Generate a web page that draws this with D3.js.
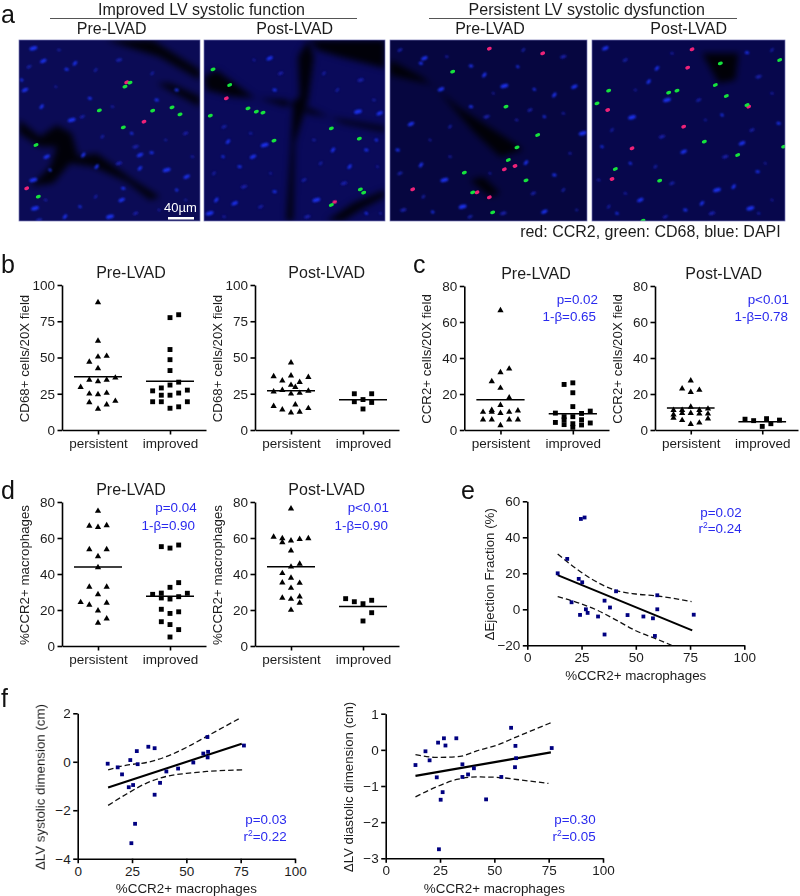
<!DOCTYPE html>
<html>
<head>
<meta charset="utf-8">
<script src="https://cdn.jsdelivr.net/npm/d3@7/dist/d3.min.js"></script>
<style>
html,body{margin:0;padding:0;background:#fff;}
svg{display:block;font-family:"Liberation Sans",Arial,sans-serif;}
</style>
</head>
<body>
<div id="chart"></div>
<script>
// ---------- swarm panels: value + swarm column of each point ----------
const groups = ["persistent", "improved"];

const cd68PrePersistent = [88,61.5,47,50.5,51,42.5,29.5,34.5,33.5,34.5,36,25,24.5,25.5,19,20,17.5,14.5];
const cd68PrePersistentCol = [0,0,-1,0,1,0,-2,-1,0,1,2,-1,0,1,-1,2,1,0];
const cd68PreImproved = [77.5,79.5,55.5,48.5,41,33,31,29,27,27.5,25.5,24,24,19.5,19.5,19.5,15,16];
const cd68PreImprovedCol = [0,1,0,0,0,1,0,-1,-2,2,1,0,-1,-2,-1,2,0,1];
const cd68PostPersistent = [46.5,37,34,37.5,33,36.5,31,29.5,26.5,27.5,25,25.5,27,16.5,14,17.5,12,12.5,15];
const cd68PostPersistentCol = [0,-2,-1,0,1,2,0,0.5,-2,-1,0,1,2,-2,-1,0.5,0,1,2];
const cd68PostImproved = [25,25,19.5,21,19,14.5];
const cd68PostImprovedCol = [-1,1,-1,0,1,0];
const cd68Means = [36.7,33.7,27,20.8];

const ccr2PrePersistent = [66.4,27,32,34,23.3,18,13.8,10,10,11,10,10.7,9.4,5.7,5.7,5.7,5.7,2.6];
const ccr2PrePersistentCol = [0,-1,0,1,0,1,0,-2,-1,-1,1,2,0,-2,-1,1,2,0];
const ccr2PreImproved = [25.3,26.2,20.7,13,10.5,9.2,9.4,7.4,7.4,4.2,5.7,5.7,3.9,3,2.8,1.5,3.5];
const ccr2PreImprovedCol = [-1,0,0,0,2,1,-2,-1,0,-2,-1,1,2,-1,1,0,0];
const ccr2PostPersistent = [27.4,23,21,22.2,12.8,11,11,11,11.8,9.4,9.4,8.5,9,9,6.7,5.4,6.3,3.2,4];
const ccr2PostPersistentCol = [0,-1,0,1,0,-1,-2,1,2,0,-1,-2,1,2,-2,-1,2,0,1];
const ccr2PostImproved = [6,5.2,6.3,5.5,3.5,2];
const ccr2PostImprovedCol = [-2,-1,0.5,2,1,0];
const ccr2Means = [16.8,9,12.2,4.6];

const pctPrePersistent = [75,66.7,66,67,53.7,53.7,49.8,43.7,32.8,32.8,28.7,24.3,22.8,23.9,19.6,15.2,12.8];
const pctPrePersistentCol = [0,-1,0,1,-1,1,0,0,-1,1,0,-2,-1,1,0,1,0];
const pctPreImproved = [55.2,54.4,56.1,35.2,32.6,28.7,29.4,29.3,27.4,26.7,26.1,20.4,18.1,19,13.5,11.9,9.1,5];
const pctPreImprovedCol = [-1,0,1,1,0,-2,-1,2,1,-1,0,-1,0,1,-1,0,1,0];
const pctPostPersistent = [76.3,60.6,59.8,57.6,58.5,59.4,59.8,53,44,45.6,40.4,37.8,35.2,35,32.2,26.7,26.1,27.4,23.9,20];
const pctPostPersistentCol = [0,-2,-1,-1,0,1,2,0,0,1,-1,0,-1,1,0,-1,0,1,1,0];
const pctPostImproved = [26.3,24.6,23.5,25.4,18.5,13.9];
const pctPostImprovedCol = [-2,-1,0,1,1,0];
const pctMeans = [43.9,27.6,44,21.9];

// ---------- regression panels ----------
const efX = [14,18.4,20.4,23.7,24.3,24.7,26.4,25.3,27,27.8,32.6,35.6,35.6,38.1,40.9,46.2,53.5,57.9,58.8,59.9,59.9,76.7];
const efY = [20,28,3.9,16.9,-3.1,50.2,51,15,0,-2,-4,4.8,-14,1,10,-3.2,-4,-5,-14.8,7.8,0,-3];
const efLineX = [14,76];
const efLineY = [19,-11.7];
const efUpperX = [14,22.7,30.4,41,50,60,75.7];
const efUpperY = [30.7,22.4,16.3,10.4,8.5,7.4,4.3];
const efLowerX = [14,22.7,32,41,50,60,66.5];
const efLowerY = [7,3.9,-0.4,-6,-11.9,-16.7,-20];

const lvsX = [13.8,18.4,20.4,23.5,24.2,24.7,25.5,26.4,27.2,27.6,32.5,35.4,35.4,37.9,40.8,46.2,53.2,57.8,59.7,60,59.8,76.5];
const lvsY = [-0.08,-0.23,-0.52,-1.05,0.07,-3.36,-0.96,-2.56,0.44,-0.1,0.62,0.56,-1.36,-0.87,-0.4,-0.28,-0.03,0.34,1.02,0.41,0.18,0.67];
const lvsLineX = [14,75.5];
const lvsLineY = [-1.06,0.74];
const lvsUpperX = [14,22.5,31.7,41,50,59.4,74.7];
const lvsUpperY = [-0.33,-0.14,-0.03,0.22,0.59,1.05,1.8];
const lvsLowerX = [14,22.5,31.7,41,50,59.4,77];
const lvsLowerY = [-1.8,-1.33,-0.88,-0.6,-0.48,-0.4,-0.33];

const lvdX = [13.7,18.3,20.2,23.5,24.1,24.5,25.3,26.2,26.8,27.5,32.5,35.3,35.3,37.9,40.6,46.2,53.2,57.7,59.7,60,59.5,76.4];
const lvdY = [-0.42,-0.04,-0.29,-0.76,0.2,-2.75,-1.38,-1.17,0.32,0.12,0.32,-0.4,-0.75,-0.68,-0.51,-1.37,-0.75,0.61,0.11,-0.23,-0.48,0.05];
const lvdLineX = [13.7,76];
const lvdLineY = [-0.72,-0.07];
const lvdUpperX = [13.7,23.5,34.2,41.9,51.1,60.3,76.4];
const lvdUpperY = [-0.13,-0.21,-0.18,-0.03,0.13,0.36,0.76];
const lvdLowerX = [13.7,23.5,32.7,41.9,51.1,60.3,74.9];
const lvdLowerY = [-1.3,-1.02,-0.82,-0.75,-0.76,-0.82,-0.93];

// ---------- micrographs: stained spots in field units, [x, y] ----------
const field1Dark = [[[0,240],[63,290],[113,255],[158,280],[178,350],[233,340],[343,420],[423,470],[393,480],[323,425],[223,380],[153,370],[103,430],[33,440],[93,380],[113,320],[63,320],[0,280]],[[413,130],[543,200],[543,170],[453,130]],[[260,0],[400,0],[543,90],[543,120],[420,50]]];
const field1Green = [[333,128],[318,140],[241,211],[459,202],[483,223],[313,262],[51,315],[58,470],[401,212]];
const field1Red = [[375,245],[23,445],[323,127]];
const field1Blue = [[73,63],[143,88],[168,70],[43,25],[8,120],[18,150],[213,175],[68,200],[158,240],[338,280],[363,345],[398,338],[363,385],[443,390],[473,450],[308,480],[313,445],[138,530],[43,420],[93,390],[83,350],[413,180],[233,380],[273,530],[183,500],[503,410],[473,150],[193,345],[48,505]];
const field1Dim = [[30,80],[120,30],[230,90],[300,60],[110,140],[190,230],[280,200],[400,100],[350,320],[440,300],[500,280],[520,350],[250,290],[300,370],[420,510],[350,520],[80,480],[230,470],[60,540],[500,480]];

const field2Dark = [[[282,50],[312,0],[330,50],[312,180],[272,310],[267,543],[247,543],[262,300],[267,200],[247,180],[87,170],[7,150],[0,110],[37,90],[147,170],[247,200],[287,170]],[[317,0],[543,0],[543,85],[407,50],[340,30]],[[307,220],[543,260],[543,275],[417,250],[307,200]],[[367,543],[447,490],[543,450],[543,470],[467,510],[417,543]]];
const field2Green = [[27,88],[77,135],[132,205],[157,215],[177,218],[19,227],[382,265],[466,296],[210,302],[469,448],[479,458],[382,495]];
const field2Red = [[67,175],[392,486]];
const field2Blue = [[197,55],[212,150],[72,305],[182,315],[57,350],[92,490],[212,455],[37,480],[462,215],[517,300],[527,220],[487,330],[387,330],[337,480],[487,520],[147,350],[107,380],[437,380],[17,520]];
const field2Dim = [[60,260],[140,280],[30,400],[120,440],[200,400],[170,500],[60,530],[350,370],[420,430],[520,380],[300,420],[330,300],[400,150],[470,120],[150,60],[230,100],[510,180],[360,100],[310,530],[530,520]];

const field3Dark = [[[0,105],[130,135],[255,280],[330,350],[400,330],[350,295],[210,205],[95,110],[0,60]],[[240,420],[300,470],[330,460],[280,410]]];
const field3Green = [[348,200],[443,285],[381,322],[355,360],[223,398],[248,457],[308,517],[408,421],[188,95]];
const field3Red = [[298,26],[458,40],[343,388],[375,378],[68,448],[261,457],[298,472]];
const field3Blue = [[103,55],[243,78],[283,105],[343,138],[433,148],[63,252],[243,200],[408,368],[218,500],[128,516],[463,515],[493,405],[493,165],[578,280],[463,230],[153,148],[23,330],[93,375],[163,420],[383,80],[553,140],[93,70]];
const field3Dim = [[30,30],[170,50],[400,30],[520,50],[310,160],[420,210],[520,220],[180,260],[290,230],[120,300],[30,400],[180,350],[100,470],[40,510],[300,400],[430,460],[540,340],[520,450],[340,520],[560,510],[240,530],[380,240]];

const field4Dark = [[[330,40],[440,40],[430,120],[380,130]]];
const field4Green = [[385,70],[50,152],[15,190],[255,152],[230,158],[370,135],[403,168],[465,195],[337,305],[437,345],[70,387],[203,422],[575,320],[563,60],[153,542]];
const field4Red = [[300,28],[287,83],[275,260],[60,417],[470,200],[47,210],[120,325]];
const field4Blue = [[40,25],[465,38],[195,85],[120,232],[390,225],[275,335],[497,395],[330,490],[475,505],[75,520],[450,310],[560,250],[170,125],[225,180],[30,320],[145,480],[280,510],[425,440],[375,450],[115,370]];
const field4Dim = [[100,60],[240,40],[540,30],[500,110],[130,150],[320,180],[540,160],[60,270],[210,290],[340,240],[480,270],[20,420],[190,380],[400,350],[520,370],[240,430],[100,460],[50,500],[360,520],[540,480],[220,530],[500,520]];

const svg = d3.select("#chart").append("svg").attr("width", 800).attr("height", 896);
const ink = "#1c1c1c", blueInk = "#2a2aee", navy = "#000080";

const text = (s, x, y, size, opts = {}) => svg.append("text").attr("x", x).attr("y", y)
  .attr("font-size", size).attr("fill", opts.fill || ink)
  .attr("text-anchor", opts.anchor || "middle").text(s);

// ---------- panel a ----------
const defs = svg.append("defs");
const blurFilter = (id, sd) => defs.append("filter").attr("id", id)
  .attr("x", "-30%").attr("y", "-30%").attr("width", "160%").attr("height", "160%")
  .append("feGaussianBlur").attr("stdDeviation", sd);
blurFilter("soft", 0.75);
blurFilter("medium", 1.1);
blurFilter("softer", 3);
const nucleusShape = [[3.4, 1.7, -25], [2.2, 1.4, 10], [2.8, 1.5, -50], [4, 1.9, -15], [1.8, 1.3, 30]];

function micrograph(i, left, top, w, h, bg, dark, green, red, blue, dim) {
  const fx = d3.scaleLinear().domain([0, w * 3]).range([left, left + w]);
  const fy = d3.scaleLinear().domain([0, h * 3]).range([top, top + h]);
  defs.append("clipPath").attr("id", "clip" + i).append("rect")
    .attr("x", left).attr("y", top).attr("width", w).attr("height", h);
  const g = svg.append("g").attr("clip-path", `url(#clip${i})`);
  g.append("rect").attr("x", left).attr("y", top).attr("width", w).attr("height", h).attr("fill", bg);
  g.append("g").attr("filter", "url(#softer)").selectAll("path").data(dark).join("path")
    .attr("fill", "#000").attr("opacity", 0.9)
    .attr("d", d3.line().x(d => fx(d[0])).y(d => fy(d[1])).curve(d3.curveLinearClosed));
  g.append("g").attr("filter", "url(#medium)").selectAll("ellipse").data(dim).join("ellipse")
    .attr("cx", d => fx(d[0])).attr("cy", d => fy(d[1]))
    .attr("rx", (d, j) => nucleusShape[j % 5][0] * 0.8).attr("ry", (d, j) => nucleusShape[j % 5][1] * 0.8)
    .attr("fill", "#1a22b0")
    .attr("transform", (d, j) => `rotate(${nucleusShape[j % 5][2]} ${fx(d[0])} ${fy(d[1])})`);
  g.append("g").attr("filter", "url(#medium)").selectAll("ellipse").data(blue).join("ellipse")
    .attr("cx", d => fx(d[0])).attr("cy", d => fy(d[1]))
    .attr("rx", (d, j) => nucleusShape[j % 5][0]).attr("ry", (d, j) => nucleusShape[j % 5][1])
    .attr("fill", "#1c32f0")
    .attr("transform", (d, j) => `rotate(${nucleusShape[j % 5][2]} ${fx(d[0])} ${fy(d[1])})`);
  const spot = (data, fill, rx, ry) => g.append("g").attr("filter", "url(#soft)")
    .selectAll("ellipse").data(data).join("ellipse")
    .attr("cx", d => fx(d[0])).attr("cy", d => fy(d[1]))
    .attr("rx", rx).attr("ry", ry).attr("fill", fill)
    .attr("transform", d => `rotate(-20 ${fx(d[0])} ${fy(d[1])})`);
  spot(red, "#ee2278", 2.5, 1.8);
  spot(green, "#14e23c", 2.6, 1.7);
  svg.append("rect").attr("x", left).attr("y", top).attr("width", w).attr("height", h)
    .attr("fill", "none").attr("stroke", "#7676b4").attr("stroke-width", 0.7);
}
micrograph(1, 19, 40, 181, 181, "#0b0b55", field1Dark, field1Green, field1Red, field1Blue, field1Dim);
micrograph(2, 204, 40, 181, 181, "#0a0a5a", field2Dark, field2Green, field2Red, field2Blue, field2Dim);
micrograph(3, 390, 40, 197, 181, "#060640", field3Dark, field3Green, field3Red, field3Blue, field3Dim);
micrograph(4, 592, 40, 193, 181, "#07074c", field4Dark, field4Green, field4Red, field4Blue, field4Dim);

svg.append("rect").attr("x", 168).attr("y", 217).attr("width", 26).attr("height", 2.5).attr("fill", "#fff");
text("40µm", 180.5, 212, 13, {fill: "#fff"});

text("Improved LV systolic function", 201.5, 14.6, 16);
text("Persistent LV systolic dysfunction", 586.7, 14.6, 16);
[[50, 357], [429, 737]].forEach(([a, b]) => svg.append("line").attr("x1", a).attr("x2", b)
  .attr("y1", 18.5).attr("y2", 18.5).attr("stroke", "#555").attr("stroke-width", 1));
[["Pre-LVAD", 111.7], ["Post-LVAD", 294.7], ["Pre-LVAD", 490], ["Post-LVAD", 688.7]]
  .forEach(([s, x]) => text(s, x, 34, 16));
text("red: CCR2, green: CD68, blue: DAPI", 780.7, 237, 16, {anchor: "end"});

[["a", 1, 22.5], ["b", 1, 273], ["c", 413, 273], ["d", 1, 499], ["e", 461, 499], ["f", 1, 707]]
  .forEach(([s, x, y]) => text(s, x, y, 25, {anchor: "start", fill: "#111"}));

// ---------- axes ----------
function styleAxis(g) {
  g.selectAll("path,line").attr("stroke", "#000").attr("stroke-width", 1.6);
  g.selectAll("text").attr("fill", ink).attr("font-size", 13.5)
    .attr("font-family", '"Liberation Sans",Arial,sans-serif');
  return g;
}
function yLabel(s, x, y0, y1) {
  svg.append("text").attr("transform", `translate(${x},${(y0 + y1) / 2 + 1}) rotate(-90)`)
    .attr("text-anchor", "middle").attr("font-size", 13.3).attr("fill", ink).text(s);
}

// ---------- swarm panels ----------
function swarm(cfg) {
  const x = d3.scalePoint().domain(groups).range([cfg.x0, cfg.x1]).padding(0.5);
  const y = d3.scaleLinear().domain([0, cfg.max]).range([cfg.y0, cfg.y1]);
  const col = d3.scaleLinear().domain([-2, 2]).range([-x.step() * 0.241, x.step() * 0.241]);
  const mean = x.step() / 3;

  styleAxis(svg.append("g").attr("transform", `translate(${cfg.x0},0)`)
    .call(d3.axisLeft(y).tickValues(cfg.ticks).tickSize(4.5).tickPadding(2.5).tickSizeOuter(0)));
  styleAxis(svg.append("g").attr("transform", `translate(0,${cfg.y0})`)
    .call(d3.axisBottom(x).tickSize(4.5).tickPadding(3.5).tickSizeOuter(0)));

  const tri = d3.symbol().type(d3.symbolTriangle).size(17);
  const sq = d3.symbol().type(d3.symbolSquare).size(24);
  svg.append("g").selectAll("path").data(cfg.persistent.map((v, i) => [v, cfg.persistentCol[i]])).join("path")
    .attr("d", tri).attr("fill", "#000")
    .attr("transform", d => `translate(${x(groups[0]) + col(d[1])},${y(d[0])})`);
  svg.append("g").selectAll("path").data(cfg.improved.map((v, i) => [v, cfg.improvedCol[i]])).join("path")
    .attr("d", sq).attr("fill", "#000")
    .attr("transform", d => `translate(${x(groups[1]) + col(d[1])},${y(d[0])})`);
  svg.append("g").selectAll("line").data(groups).join("line")
    .attr("x1", d => x(d) - mean).attr("x2", d => x(d) + mean)
    .attr("y1", (d, i) => y(cfg.means[i])).attr("y2", (d, i) => y(cfg.means[i]))
    .attr("stroke", "#000").attr("stroke-width", 1.5);

  yLabel(cfg.ylabel, cfg.x0 - 33, cfg.y0, cfg.y1);
  text(cfg.title, cfg.titleX, cfg.y1 - 7, 16);
}

const tick100 = [0, 25, 50, 75, 100], tick80 = [0, 20, 40, 60, 80];
swarm({x0: 62, x1: 206, y0: 430, y1: 285, max: 100, ticks: tick100, ylabel: "CD68+ cells/20X field", title: "Pre-LVAD", titleX: 131,
  persistent: cd68PrePersistent, persistentCol: cd68PrePersistentCol, improved: cd68PreImproved, improvedCol: cd68PreImprovedCol, means: cd68Means.slice(0, 2)});
swarm({x0: 255, x1: 399, y0: 430, y1: 285, max: 100, ticks: tick100, ylabel: "CD68+ cells/20X field", title: "Post-LVAD", titleX: 326.7,
  persistent: cd68PostPersistent, persistentCol: cd68PostPersistentCol, improved: cd68PostImproved, improvedCol: cd68PostImprovedCol, means: cd68Means.slice(2)});
swarm({x0: 464.3, x1: 609, y0: 430, y1: 286, max: 80, ticks: tick80, ylabel: "CCR2+ cells/20X field", title: "Pre-LVAD", titleX: 536,
  persistent: ccr2PrePersistent, persistentCol: ccr2PrePersistentCol, improved: ccr2PreImproved, improvedCol: ccr2PreImprovedCol, means: ccr2Means.slice(0, 2)});
swarm({x0: 655, x1: 798, y0: 430, y1: 286, max: 80, ticks: tick80, ylabel: "CCR2+ cells/20X field", title: "Post-LVAD", titleX: 723.7,
  persistent: ccr2PostPersistent, persistentCol: ccr2PostPersistentCol, improved: ccr2PostImproved, improvedCol: ccr2PostImprovedCol, means: ccr2Means.slice(2)});
swarm({x0: 62, x1: 206, y0: 646, y1: 502, max: 80, ticks: tick80, ylabel: "%CCR2+ macrophages", title: "Pre-LVAD", titleX: 131,
  persistent: pctPrePersistent, persistentCol: pctPrePersistentCol, improved: pctPreImproved, improvedCol: pctPreImprovedCol, means: pctMeans.slice(0, 2)});
swarm({x0: 255, x1: 399, y0: 646, y1: 502, max: 80, ticks: tick80, ylabel: "%CCR2+ macrophages", title: "Post-LVAD", titleX: 326.7,
  persistent: pctPostPersistent, persistentCol: pctPostPersistentCol, improved: pctPostImproved, improvedCol: pctPostImprovedCol, means: pctMeans.slice(2)});

// ---------- regression panels ----------
function regress(cfg) {
  const x = d3.scaleLinear().domain([0, 100]).range([cfg.x0, cfg.x1]);
  const y = d3.scaleLinear().domain(cfg.dom).range([cfg.y0, cfg.y1]);
  styleAxis(svg.append("g").attr("transform", `translate(${cfg.x0},0)`)
    .call(d3.axisLeft(y).tickValues(cfg.yticks).tickSize(4.5).tickPadding(2.5).tickSizeOuter(0).tickFormat(d3.format("d"))));
  styleAxis(svg.append("g").attr("transform", `translate(0,${cfg.y0})`)
    .call(d3.axisBottom(x).tickValues(tick100).tickSize(4.5).tickPadding(3).tickSizeOuter(0)));
  const line = d3.line().x(d => x(d[0])).y(d => y(d[1])).curve(d3.curveMonotoneX);
  const zip = (a, b) => a.map((v, i) => [v, b[i]]);
  [[cfg.ux, cfg.uy], [cfg.lx, cfg.ly]].forEach(([a, b]) => svg.append("path").datum(zip(a, b))
    .attr("d", line).attr("fill", "none").attr("stroke", "#111").attr("stroke-width", 1.3).attr("stroke-dasharray", "5.5 3"));
  svg.append("path").datum(zip(cfg.lineX, cfg.lineY)).attr("d", line).attr("fill", "none")
    .attr("stroke", "#000").attr("stroke-width", 2.1);
  svg.append("g").selectAll("rect").data(zip(cfg.px, cfg.py)).join("rect")
    .attr("x", d => x(d[0]) - 1.9).attr("y", d => y(d[1]) - 1.9)
    .attr("width", 3.8).attr("height", 3.8).attr("fill", navy);
  yLabel(cfg.ylabel, cfg.x0 - 33, cfg.y0, cfg.y1);
  text("%CCR2+ macrophages", (cfg.x0 + cfg.x1) / 2, cfg.y0 + 34.5, 13.4);
}
regress({x0: 527.3, x1: 744.3, y0: 645.3, y1: 501.3, dom: [-20, 60], yticks: [-20, 0, 20, 40, 60], ylabel: "ΔEjection Fraction (%)",
  px: efX, py: efY, lineX: efLineX, lineY: efLineY, ux: efUpperX, uy: efUpperY, lx: efLowerX, ly: efLowerY});
regress({x0: 77.7, x1: 295, y0: 858.7, y1: 713.3, dom: [-4, 2], yticks: [-4, -2, 0, 2], ylabel: "ΔLV systolic dimension (cm)",
  px: lvsX, py: lvsY, lineX: lvsLineX, lineY: lvsLineY, ux: lvsUpperX, uy: lvsUpperY, lx: lvsLowerX, ly: lvsLowerY});
regress({x0: 385.7, x1: 603, y0: 858.3, y1: 713.7, dom: [-3, 1], yticks: [-3, -2, -1, 0, 1], ylabel: "ΔLV diastolic dimension (cm)",
  px: lvdX, py: lvdY, lineX: lvdLineX, lineY: lvdLineY, ux: lvdUpperX, uy: lvdUpperY, lx: lvdLowerX, ly: lvdLowerY});

// ---------- blue annotations ----------
const annot = (s, x, y) => text(s, x, y, 13.4, {anchor: "end", fill: blueInk});
annot("p=0.02", 598, 304); annot("1-β=0.65", 596, 321);
annot("p<0.01", 789, 304); annot("1-β=0.78", 788, 321);
annot("p=0.04", 196.7, 512); annot("1-β=0.90", 195, 530);
annot("p<0.01", 389, 512); annot("1-β=0.90", 388, 530);
function r2(s, x, y) {
  const t = text("", x, y, 13.4, {anchor: "end", fill: blueInk});
  t.append("tspan").text("r");
  t.append("tspan").attr("font-size", 8.5).attr("dy", -5).text("2");
  t.append("tspan").attr("dy", 5).text("=" + s);
}
annot("p=0.02", 741.7, 516.7); r2("0.24", 741.7, 533.3);
annot("p=0.03", 286.7, 824); r2("0.22", 286.7, 841);
annot("p=0.30", 595.7, 824); r2("0.05", 595.7, 841);
</script>
</body>
</html>
